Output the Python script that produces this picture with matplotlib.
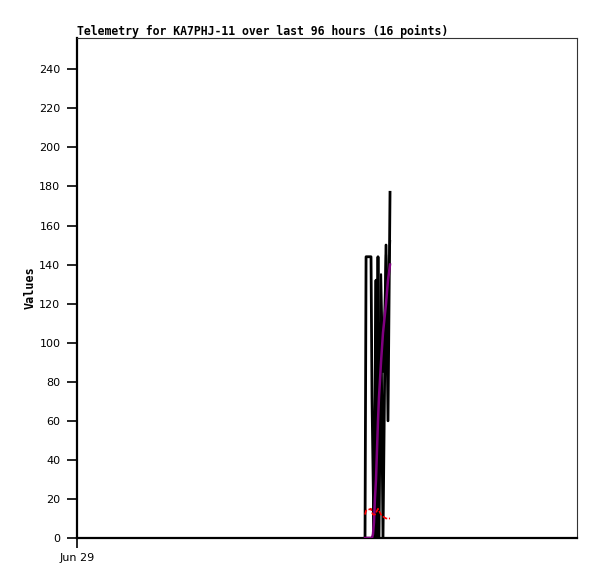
import matplotlib
matplotlib.use("Agg")
import matplotlib.pyplot as plt

# time in hours since start of 96 h window
hours = [55.3, 55.5, 56.45, 56.64, 56.83, 57.02, 57.2, 57.41, 57.6, 57.79,
         57.98, 58.37, 58.75, 59.33, 59.71, 60.1]
ch_black = [0, 144, 144, 72, 36, 0, 60, 132, 0, 144, 0, 110, 0, 150, 60, 177]
ch_black2 = [0, 0, 0, 0, 0, 0, 0, 0, 36, 110, 70, 135, 85, 145, 120, 152]
ch_purple = [0, 0, 0, 0, 2, 8, 20, 30, 45, 60, 72, 90, 105, 120, 132, 140]
ch_red = [12, 14, 15, 13, 12, 12, 12, 13, 14, 15, 14, 12, 11, 10, 10, 10]
ch_blue = [0] * 16

yticks = [0, 20, 40, 60, 80, 100, 120, 140, 160, 180, 200, 220, 240]
xtick_pos = [0]
xtick_labels = ["Jun 29"]

W, H = 597, 579
fig = plt.figure(figsize=(W / 100, H / 100), dpi=100)
ax = fig.add_axes([77 / W, (H - 538) / H, 500 / W, 500 / H])

ax.plot(hours, ch_blue, color="#1a75c8", lw=2, zorder=2)
ax.plot(hours, ch_black2, color="#000000", lw=1.6, zorder=3)
ax.plot(hours, ch_black, color="#000000", lw=2, zorder=4)
ax.plot(hours, ch_purple, color="#800080", lw=1.8, zorder=5)
ax.plot(hours, ch_red, color="#ff0000", lw=1.2, ls=(0, (3, 1)), zorder=6)

ax.set_xlim(0, 96)
ax.set_ylim(0, 256)
ax.set_yticks(yticks)
ax.set_xticks(xtick_pos)
ax.set_xticklabels(xtick_labels)

for s in ["left", "bottom"]:
    ax.spines[s].set_linewidth(1.6)
    ax.spines[s].set_color("black")
for s in ["top", "right"]:
    ax.spines[s].set_linewidth(0.8)
    ax.spines[s].set_color("#333333")

ax.tick_params(axis="y", direction="out", length=7, width=1.2, labelsize=8, pad=5)
ax.tick_params(axis="x", direction="out", length=7, width=1.2, labelsize=8, pad=4)

ax.set_ylabel("Values", fontsize=8.5, fontweight="bold", family="DejaVu Sans Mono", labelpad=2)
ax.set_title("Telemetry for KA7PHJ-11 over last 96 hours (16 points)", fontsize=8.3,
             fontweight="bold", family="DejaVu Sans Mono", loc="left", pad=2)

fig.savefig("out.png", dpi=100)
